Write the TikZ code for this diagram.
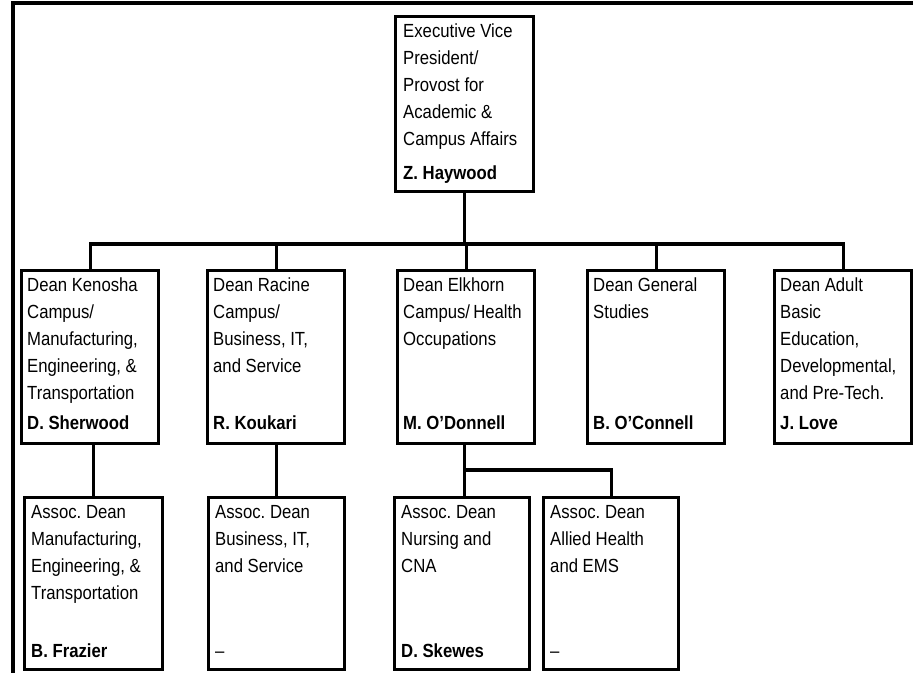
\documentclass[tikz,border=0pt]{standalone}
\usepackage{fontspec}
\setmainfont{Liberation Sans}[FakeStretch=0.88]
\usetikzlibrary{calc}
\frenchspacing
\tikzset{
  box/.style={draw, line width=3.3pt, minimum width=137pt, minimum height=173pt, anchor=north west, inner sep=0pt},
  txt/.style={anchor=north west, align=left, inner sep=0pt, font=\fontsize{19}{27}\selectfont},
  nm/.style={anchor=base west, inner sep=0pt, font=\fontsize{19}{27}\selectfont\bfseries},
  conn/.style={line width=3.3pt},
  frame/.style={line width=3.8pt}
}
\begin{document}
\begin{tikzpicture}[x=1pt,y=-1pt]
\useasboundingbox (0,0) rectangle (913,673);
\draw[frame] (913,3) -- (13,3) -- (13,673);

% top
\node[box, minimum width=138pt, minimum height=175pt] (top) at (394,15) {};
\node[txt] (toptx) at ($(top.north west)+(9,9)$) {Executive Vice\\President/\\Provost for\\Academic \&\\Campus Affairs};
\node[nm] (topnm) at ($(top.south west)+(9,-14)$) {Z. Haywood};

% row 1
\node[box] (k) at (20,269) {};
\node[box] (r) at (206,269) {};
\node[box] (e) at (396,269) {};
\node[box] (g) at (586,269) {};
\node[box] (l) at (773,269) {};

\node[txt] (ktx) at ($(k.north west)+(7,9)$) {Dean Kenosha\\Campus/\\Manufacturing,\\Engineering, \&\\Transportation};
\node[nm] (knm) at ($(k.south west)+(7,-16)$) {D. Sherwood};
\node[txt] (rtx) at ($(r.north west)+(7,9)$) {Dean Racine\\Campus/\\Business, IT,\\and Service};
\node[nm] (rnm) at ($(r.south west)+(7,-16)$) {R. Koukari};
\node[txt] (etx) at ($(e.north west)+(7,9)$) {Dean Elkhorn\\Campus/\,Health\\Occupations};
\node[nm] (enm) at ($(e.south west)+(7,-16)$) {M. O’Donnell};
\node[txt] (gtx) at ($(g.north west)+(7,9)$) {Dean General\\Studies};
\node[nm] (gnm) at ($(g.south west)+(7,-16)$) {B. O’Connell};
\node[txt] (ltx) at ($(l.north west)+(7,9)$) {Dean Adult\\Basic\\Education,\\Developmental,\\and Pre-Tech.};
\node[nm] (lnm) at ($(l.south west)+(7,-16)$) {J. Love};

% row 2
\node[box, minimum width=138pt, minimum height=172pt] (f) at (23,496) {};
\node[box, minimum width=136pt, minimum height=172pt] (b) at (207,496) {};
\node[box, minimum width=135pt, minimum height=172pt] (n) at (393,496) {};
\node[box, minimum width=135pt, minimum height=172pt] (a) at (542,496) {};

\node[txt] (ftx) at ($(f.north west)+(8,9)$) {Assoc. Dean\\Manufacturing,\\Engineering, \&\\Transportation};
\node[nm] (fnm) at ($(f.south west)+(8,-14)$) {B. Frazier};
\node[txt] (btx) at ($(b.north west)+(8,9)$) {Assoc. Dean\\Business, IT,\\and Service};
\node[nm, font=\fontsize{19}{27}\selectfont] (bnm) at ($(b.south west)+(8,-14)$) {–};
\node[txt] (ntx) at ($(n.north west)+(8,9)$) {Assoc. Dean\\Nursing and\\CNA};
\node[nm] (nnm) at ($(n.south west)+(8,-14)$) {D. Skewes};
\node[txt] (atx) at ($(a.north west)+(8,9)$) {Assoc. Dean\\Allied Health\\and EMS};
\node[nm, font=\fontsize{19}{27}\selectfont] (anm) at ($(a.south west)+(8,-14)$) {–};

% connectors
\coordinate (bus) at (0,244);
\coordinate (hb) at (0,470);
\draw[conn] (top.south) -- (top.south |- bus);
\draw[conn] (k.north) -- (k.north |- bus) -- (l.north |- bus) -- (l.north);
\draw[conn] (r.north) -- (r.north |- bus);
\draw[conn] (e.north) -- (e.north |- bus);
\draw[conn] (g.north) -- (g.north |- bus);
\draw[conn] (f.north) -- (f.north |- k.south);
\draw[conn] (b.north) -- (b.north |- r.south);
\coordinate (ed) at ($(e.south)+(-2,0)$);
\draw[conn] (ed) -- (ed |- n.north);
\draw[conn] (ed |- hb) -| (a.north);
\end{tikzpicture}
\end{document}
